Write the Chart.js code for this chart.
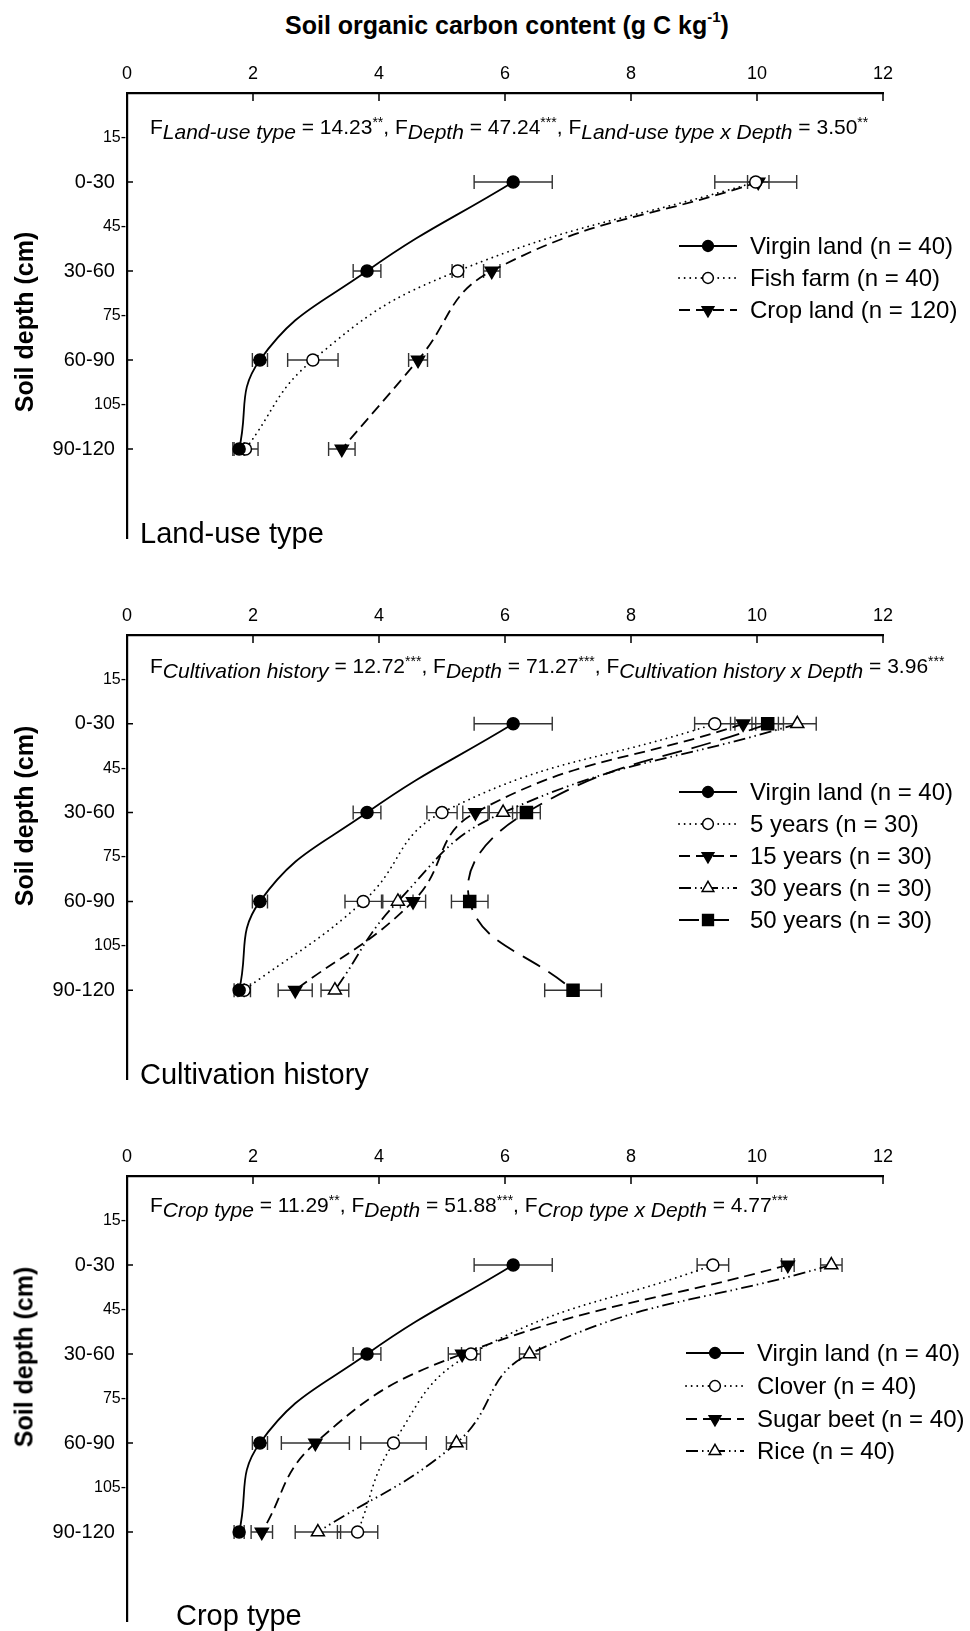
<!DOCTYPE html>
<html>
<head>
<meta charset="utf-8">
<script src="https://cdn.jsdelivr.net/npm/chart.js@4.4.1/dist/chart.umd.min.js"></script>
<style>
  html, body { margin: 0; padding: 0; background: #fff; }
  body { width: 970px; height: 1631px; position: relative; overflow: hidden;
         font-family: "Liberation Sans", Arial, sans-serif; color: #000; }
  canvas { position: absolute; left: 0; }
  .txt { position: absolute; white-space: nowrap; line-height: 1; }
  .title { left: 285px; top: 12px; font-size: 25px; font-weight: bold; }
  .title sup { font-size: 15px; position: relative; top: -3px; }
  .ytitle { font-size: 25px; font-weight: bold; transform: translate(-50%, -50%) rotate(-90deg); left: 24px; }
  .ftext { font-size: 21px; left: 150px; }
  .ftext i { position: relative; top: 5px; }
  .ftext b { font-weight: normal; font-size: 14px; position: relative; top: -7px; }
  .plabel { font-size: 29px; }
</style>
</head>
<body>
<div class="txt title">Soil organic carbon content (g C kg<sup>-1</sup>)</div>

<canvas id="chartLandUse" width="970" height="547" style="top:0px"></canvas>
<canvas id="chartHistory" width="970" height="547" style="top:542px"></canvas>
<canvas id="chartCrop" width="970" height="547" style="top:1083px"></canvas>

<div class="txt ytitle" style="top:322px">Soil depth (cm)</div>
<div class="txt ytitle" style="top:816px">Soil depth (cm)</div>
<div class="txt ytitle" style="top:1357px">Soil depth (cm)</div>

<div class="txt ftext" style="top:116px">F<i>Land-use type</i> = 14.23<b>**</b>, F<i>Depth</i> = 47.24<b>***</b>, F<i>Land-use type x Depth</i> = 3.50<b>**</b></div>
<div class="txt ftext" style="top:655px">F<i>Cultivation history</i> = 12.72<b>***</b>, F<i>Depth</i> = 71.27<b>***</b>, F<i>Cultivation history x Depth</i> = 3.96<b>***</b></div>
<div class="txt ftext" style="top:1194px">F<i>Crop type</i> = 11.29<b>**</b>, F<i>Depth</i> = 51.88<b>***</b>, F<i>Crop type x Depth</i> = 4.77<b>***</b></div>

<div class="txt plabel" style="left:140px; top:519px">Land-use type</div>
<div class="txt plabel" style="left:140px; top:1060px">Cultivation history</div>
<div class="txt plabel" style="left:176px; top:1601px">Crop type</div>

<script>
// depth of each sampled layer (cm) and axis ticks
const depths = [30, 60, 90, 120];
const xTickValues = [0, 2, 4, 6, 8, 10, 12];
const depthTickValues = [15, 30, 45, 60, 75, 90, 105, 120];
const depthTickLabels = ['15-', '0-30', '45-', '30-60', '75-', '60-90', '105-', '90-120'];

// SOC means and error bars (g C / kg), one value per layer
const virginMean = [6.13, 3.81, 2.11, 1.78];
const virginErr = [0.62, 0.22, 0.12, 0.08];

const fishFarmMean = [9.98, 5.25, 2.95, 1.88];
const fishFarmErr = [0.65, 0.09, 0.40, 0.20];
const cropLandMean = [10.02, 5.79, 4.62, 3.41];
const cropLandErr = [0.17, 0.13, 0.15, 0.21];

const years5Mean = [9.33, 5.00, 3.75, 1.86];
const years5Err = [0.32, 0.24, 0.29, 0.10];
const years15Mean = [9.78, 5.53, 4.54, 2.67];
const years15Err = [0.20, 0.20, 0.20, 0.27];
const years30Mean = [10.64, 5.97, 4.30, 3.30];
const years30Err = [0.30, 0.22, 0.24, 0.22];
const years50Mean = [10.17, 6.34, 5.44, 7.08];
const years50Err = [0.25, 0.22, 0.29, 0.45];

const cloverMean = [9.30, 5.46, 4.23, 3.66];
const cloverErr = [0.25, 0.15, 0.52, 0.32];
const sugarBeetMean = [10.49, 5.32, 2.99, 2.14];
const sugarBeetErr = [0.10, 0.22, 0.54, 0.17];
const riceMean = [11.18, 6.39, 5.23, 3.03];
const riceErr = [0.17, 0.16, 0.16, 0.36];

const FONT = '"Liberation Sans", Arial, sans-serif';
Chart.defaults.font.family = FONT;
Chart.defaults.color = '#000';

const styles = {
  solidCircle: { dash: [], cap: 'butt', point: 'circle', r: 6, rot: 0, fill: '#000' },
  dotCircle: { dash: [0.1, 5.5], cap: 'round', point: 'circle', r: 6, rot: 0, fill: '#fff' },
  dashTriDown: { dash: [11, 6], cap: 'butt', point: 'triangle', r: 7.5, rot: 180, fill: '#000' },
  dashDotTriUp: { dash: [12, 4, 1.5, 4, 1.5, 4], cap: 'butt', point: 'triangle', r: 7.5, rot: 0, fill: '#fff' },
  longDashSquare: { dash: [20, 10], cap: 'butt', point: 'rect', r: 8.5, rot: 0, fill: '#000' }
};

function series(label, mean, err, s) {
  return {
    label: label,
    data: depths.map((d, i) => ({ x: mean[i], y: d })),
    errors: err,
    showLine: true,
    borderColor: '#000',
    borderWidth: 1.8,
    borderDash: s.dash,
    borderCapStyle: s.cap,
    tension: 0.45,
    pointStyle: s.point,
    pointRadius: s.r,
    pointHoverRadius: s.r,
    pointRotation: s.rot,
    pointBackgroundColor: s.fill,
    pointBorderColor: '#000',
    pointBorderWidth: 1.5,
    clip: false
  };
}

// horizontal error bars with caps, under the markers
const errorBars = {
  id: 'errorBars',
  beforeDatasetsDraw(chart) {
    const { ctx, scales: { x, y } } = chart;
    ctx.save();
    ctx.strokeStyle = '#333';
    ctx.lineWidth = 1.4;
    chart.data.datasets.forEach(ds => {
      ds.errors.forEach((e, i) => {
        const p = ds.data[i];
        const xl = x.getPixelForValue(p.x - e);
        const xr = x.getPixelForValue(p.x + e);
        const py = y.getPixelForValue(p.y);
        ctx.beginPath();
        ctx.moveTo(xl, py); ctx.lineTo(xr, py);
        ctx.moveTo(xl, py - 7); ctx.lineTo(xl, py + 7);
        ctx.moveTo(xr, py - 7); ctx.lineTo(xr, py + 7);
        ctx.stroke();
      });
    });
    ctx.restore();
  }
};

// inward tick marks on the top and left axes
const axisMarks = {
  id: 'axisMarks',
  afterDraw(chart) {
    const { ctx, chartArea: a, scales: { x, y } } = chart;
    ctx.save();
    ctx.strokeStyle = '#000';
    ctx.lineWidth = 1.5;
    ctx.beginPath();
    xTickValues.forEach(v => {
      const px = x.getPixelForValue(v);
      ctx.moveTo(px, a.top); ctx.lineTo(px, a.top + 8);
    });
    depthTickValues.forEach(v => {
      if (v % 30 !== 0) return;
      const py = y.getPixelForValue(v);
      ctx.moveTo(a.left, py); ctx.lineTo(a.left + 6, py);
    });
    ctx.stroke();
    ctx.restore();
  }
};

// legend drawn inside the plot area
const panelLegend = {
  id: 'panelLegend',
  afterDatasetsDraw(chart, args, opts) {
    const { ctx } = chart;
    chart.data.datasets.forEach((ds, i) => {
      const ly = opts.rows[i];
      ctx.save();
      ctx.strokeStyle = '#000';
      ctx.lineWidth = 1.8;
      ctx.setLineDash(ds.borderDash);
      ctx.lineCap = ds.borderCapStyle;
      ctx.beginPath();
      ctx.moveTo(opts.x, ly); ctx.lineTo(opts.x + 58, ly);
      ctx.stroke();
      ctx.setLineDash([]);
      ctx.fillStyle = ds.pointBackgroundColor;
      ctx.lineWidth = 1.5;
      Chart.helpers.drawPoint(ctx, {
        pointStyle: ds.pointStyle, radius: ds.pointRadius * 0.9,
        rotation: ds.pointRotation, borderWidth: 1.5
      }, opts.x + 29, ly);
      ctx.fillStyle = '#000';
      ctx.font = '24px ' + FONT;
      ctx.textBaseline = 'middle';
      ctx.textAlign = 'left';
      ctx.fillText(ds.label, opts.x + 71, ly + 1);
      ctx.restore();
    });
  }
};

function makeChart(id, datasets, legend) {
  return new Chart(document.getElementById(id), {
    type: 'scatter',
    data: { datasets: datasets },
    plugins: [errorBars, axisMarks, panelLegend],
    options: {
      responsive: false,
      animation: false,
      devicePixelRatio: 1,
      layout: { padding: { left: 0, right: 87, top: 0, bottom: 0 } },
      plugins: {
        legend: { display: false },
        tooltip: { enabled: false },
        panelLegend: legend
      },
      scales: {
        x: {
          type: 'linear',
          position: 'top',
          min: 0,
          max: 12,
          afterBuildTicks: s => { s.ticks = xTickValues.map(v => ({ value: v })); },
          afterFit: s => { s.height = 93; s.paddingLeft = 0; s.paddingRight = 0; },
          grid: { display: false, drawTicks: false },
          border: { display: true, color: '#000', width: 2.2 },
          ticks: { font: { size: 18 }, padding: 8, color: '#000', maxRotation: 0 }
        },
        y: {
          type: 'linear',
          reverse: true,
          min: 0,
          max: 150,
          afterBuildTicks: s => { s.ticks = depthTickValues.map(v => ({ value: v })); },
          afterFit: s => { s.width = 127; s.paddingTop = 0; s.paddingBottom = 0; },
          grid: { display: false, drawTicks: false },
          border: { display: true, color: '#000', width: 2.2 },
          ticks: {
            autoSkip: false,
            padding: 1,
            color: '#000',
            font: c => ({ size: c.tick && c.tick.value % 30 === 0 ? 20 : 16 }),
            callback: v => {
              const lab = depthTickLabels[depthTickValues.indexOf(v)];
              return v % 30 === 0 ? lab + '  ' : lab;
            }
          }
        }
      }
    }
  });
}

document.addEventListener('DOMContentLoaded', function () {
  makeChart('chartLandUse', [
    series('Virgin land (n = 40)', virginMean, virginErr, styles.solidCircle),
    series('Fish farm (n = 40)', fishFarmMean, fishFarmErr, styles.dotCircle),
    series('Crop land (n = 120)', cropLandMean, cropLandErr, styles.dashTriDown)
  ], { x: 679, rows: [246, 278, 310] });

  makeChart('chartHistory', [
    series('Virgin land (n = 40)', virginMean, virginErr, styles.solidCircle),
    series('5 years (n = 30)', years5Mean, years5Err, styles.dotCircle),
    series('15 years (n = 30)', years15Mean, years15Err, styles.dashTriDown),
    series('30 years (n = 30)', years30Mean, years30Err, styles.dashDotTriUp),
    series('50 years (n = 30)', years50Mean, years50Err, styles.longDashSquare)
  ], { x: 679, rows: [250, 282, 314, 346, 378] });

  makeChart('chartCrop', [
    series('Virgin land (n = 40)', virginMean, virginErr, styles.solidCircle),
    series('Clover (n = 40)', cloverMean, cloverErr, styles.dotCircle),
    series('Sugar beet (n = 40)', sugarBeetMean, sugarBeetErr, styles.dashTriDown),
    series('Rice (n = 40)', riceMean, riceErr, styles.dashDotTriUp)
  ], { x: 686, rows: [270, 303, 336, 368] });
});
</script>
</body>
</html>
